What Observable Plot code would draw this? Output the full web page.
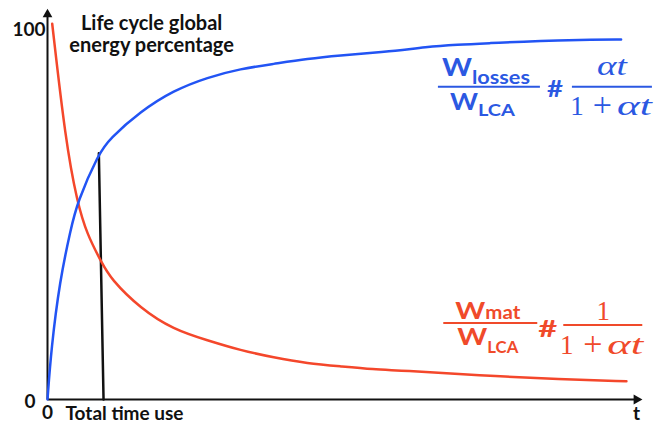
<!DOCTYPE html>
<html><head><meta charset="utf-8">
<script src="https://cdn.jsdelivr.net/npm/d3@7"></script>
<script src="https://cdn.jsdelivr.net/npm/@observablehq/plot@0.6"></script>
<style>body{margin:0;background:#fff}#chart{width:672px;height:425px}</style>
</head><body><div id="chart"></div>
<script>
// ---- data (t: time, v: % of life-cycle energy) ----
const blueT = [0, 0.62, 2.07, 3.87, 4.99, 8.63, 10.4, 15.6, 21.2, 26.9, 32.45, 38.0, 43.7, 49.3, 54.8, 59.4, 63.2, 68.9, 74.5, 80.0, 85.8, 91.3, 96.4];
const blueV = [0, 13.5, 32.0, 45.5, 53.0, 66.2, 70.0, 77.4, 83.1, 86.6, 88.9, 90.2, 91.6, 92.5, 93.2, 93.8, 94.7, 95.4, 95.8, 96.2, 96.5, 96.7, 96.8];
const redT = [0.79, 3.03, 4.99, 6.67, 9.08, 10.59, 15.6, 21.19, 26.9, 32.45, 38.0, 43.7, 49.3, 54.8, 59.4, 72.5, 86.3, 97.3];
const redV = [101, 69.6, 53.0, 44.3, 36.9, 32.5, 24.5, 18.8, 15.9, 13.2, 11.3, 9.7, 8.9, 8.1, 7.8, 6.5, 5.4, 4.9];
const totalUseT = [8.63, 9.42];
const totalUseV = [66.2, 0];
const yTickValues = [100, 0];
const yTickLabels = ["100", "0"];
const xTickValues = [0, 100];
const xTickLabels = ["0", "t"];
const xLabel = "Total time use";
const titleText = "Life cycle global\nenergy percentage";

// ---- layout / style (not data) ----
const BLUE = "#2254f4", RED = "#f4472b", BLUE_TXT = "#2b58e2", RED_TXT = "#f04a2a", INK = "#111";
const FONT = "Lato", MATH = "Liberation Serif";
const xDomain = [0, 100], yDomain = [0, 105.1];
const axisEnd = {t: 99, v: 103.5};
const titleAt = {t: 17.5, v: 103.5};
const blueFormulaAt = {t: 65.7, v: 83.95};
const redFormulaAt = {t: 66.6, v: 20.4};

const blue = blueT.map((t, i) => ({t, v: blueV[i]}));
const red = redT.map((t, i) => ({t, v: redV[i]}));
const totalUse = totalUseT.map((t, i) => ({t, v: totalUseV[i]}));

const txt = {fontFamily: FONT, fontWeight: "bold", fill: INK, fontSize: 19};

const plot = Plot.plot({
  width: 672, height: 425,
  marginLeft: 47, marginRight: 30, marginTop: 8, marginBottom: 26,
  x: {domain: xDomain, axis: null},
  y: {domain: yDomain, axis: null},
  style: {background: "white", overflow: "visible"},
  marks: [
    Plot.link([{x1: 0, y1: 0, x2: axisEnd.t, y2: 0}], {x1: "x1", y1: "y1", x2: "x2", y2: "y2", stroke: INK, strokeWidth: 2}),
    Plot.link([{x1: 0, y1: 0, x2: 0, y2: axisEnd.v}], {x1: "x1", y1: "y1", x2: "x2", y2: "y2", stroke: INK, strokeWidth: 2}),
    Plot.dot([{t: axisEnd.t, v: 0}], {x: "t", y: "v", symbol: "triangle", r: 3.8, rotate: 90, fill: INK}),
    Plot.dot([{t: 0, v: axisEnd.v}], {x: "t", y: "v", symbol: "triangle", r: 3.6, fill: INK}),
    Plot.line(totalUse, {x: "t", y: "v", stroke: INK, strokeWidth: 2.5}),
    Plot.line(red, {x: "t", y: "v", stroke: RED, strokeWidth: 2.5, curve: "basis"}),
    Plot.line(blue, {x: "t", y: "v", stroke: BLUE, strokeWidth: 2.5, curve: "basis"}),
    Plot.text([{v: yTickValues[0], s: yTickLabels[0]}], {x: () => 0, y: "v", text: "s", textAnchor: "end", dx: -2, dy: 2, ...txt}),
    Plot.text([{v: yTickValues[1], s: yTickLabels[1]}], {x: () => 0, y: "v", text: "s", textAnchor: "end", dx: -12, dy: 2, ...txt}),
    Plot.text([{t: xTickValues[0], s: xTickLabels[0]}], {x: "t", y: () => 0, text: "s", dy: 13, ...txt}),
    Plot.text([{t: xTickValues[1], s: xTickLabels[1]}], {x: "t", y: () => 0, text: "s", dx: -6, dy: 14, ...txt}),
    Plot.text([xLabel], {x: () => 0, y: () => 0, text: d => d, textAnchor: "start", dx: 18, dy: 14, ...txt}),
    Plot.text([titleText], {x: () => titleAt.t, y: () => titleAt.v, text: d => d, lineAnchor: "top", lineHeight: 1.1, ...txt, fontSize: 20})
  ]
});
document.getElementById("chart").appendChild(plot);

// ---- formulas, placed through the plot's own scales ----
const xs = plot.scale("x"), ys = plot.scale("y");
const sx = d3.scaleLinear(xs.domain, xs.range), sy = d3.scaleLinear(ys.domain, ys.range);
const svg = d3.select(plot);

function word(g, s, x, y, size, w, color, opts = {}) {
  const t = g.append("text").attr("x", x).attr("y", y).attr("font-size", size)
    .attr("font-family", opts.family || FONT).attr("font-weight", opts.weight || "bold")
    .attr("font-style", opts.style || "normal").attr("fill", color)
    .attr("text-anchor", opts.anchor || "start").text(s);
  if (w) t.attr("textLength", w).attr("lengthAdjust", "spacingAndGlyphs");
  return t;
}
function bar(g, x1, x2, y, color) {
  g.append("line").attr("x1", x1).attr("x2", x2).attr("y1", y).attr("y2", y)
    .attr("stroke", color).attr("stroke-width", 2);
}
const mathOpts = {family: MATH, weight: "normal", anchor: "middle"};
function mathDen(g, x0, y, color, c1, cPlus, aStart, aW) {
  word(g, "1", x0 + c1, y, 27, null, color, mathOpts);
  word(g, "+", x0 + cPlus, y + 1, 34, null, color, mathOpts);
  word(g, "αt", x0 + aStart, y, 28, aW, color, {family: MATH, weight: "normal", style: "italic"});
}

// blue: W_losses / W_LCA # αt/(1+αt)
{
  const g = svg.append("g").attr("transform", `translate(${sx(blueFormulaAt.t)},${sy(blueFormulaAt.v)})`);
  bar(g, 0, 102, 0, BLUE_TXT);
  word(g, "W", 4, -11, 24, 30, BLUE_TXT);
  word(g, "losses", 34, -2.5, 19, 58, BLUE_TXT);
  word(g, "W", 12, 23, 23, 28, BLUE_TXT);
  word(g, "LCA", 40, 29, 17, 37, BLUE_TXT);
  word(g, "#", 109, 10, 22, 16, BLUE_TXT);
  bar(g, 134, 214, 0, BLUE_TXT);
  word(g, "αt", 159, -12, 28, 30, BLUE_TXT, {family: MATH, weight: "normal", style: "italic"});
  mathDen(g, 134, 28, BLUE_TXT, 5, 30.5, 45, 35);
}
// red: W_mat / W_LCA # 1/(1+αt)
{
  const g = svg.append("g").attr("transform", `translate(${sx(redFormulaAt.t)},${sy(redFormulaAt.v)})`);
  bar(g, 0, 94, 0, RED_TXT);
  word(g, "W", 12, -4, 22, 30, RED_TXT);
  word(g, "mat", 42, -4, 19, 35, RED_TXT);
  word(g, "W", 14, 22, 22, 30, RED_TXT);
  word(g, "LCA", 44, 30, 17, 31, RED_TXT);
  word(g, "#", 95, 14, 22, 19, RED_TXT);
  bar(g, 120, 199, 2, RED_TXT);
  word(g, "1", 160, -3, 27, null, RED_TXT, mathOpts);
  mathDen(g, 120, 31, RED_TXT, 3.5, 29.5, 44, 36);
}
</script>
</body></html>
